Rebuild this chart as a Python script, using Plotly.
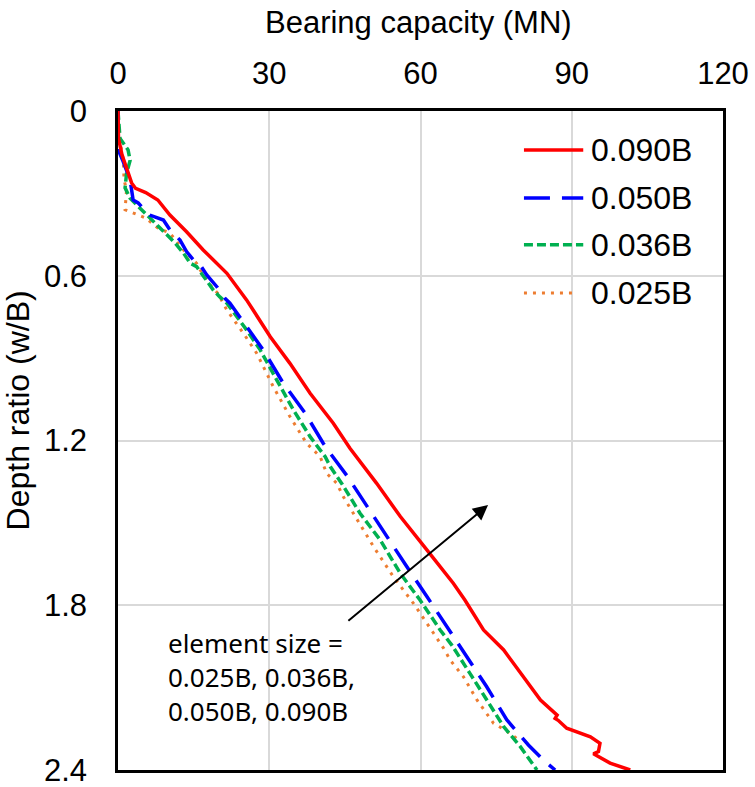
import plotly.graph_objects as go

# Bearing capacity (MN) versus depth ratio (w/B) for four mesh element sizes
cap_090 = [0, 0.1, 0.8, 1.7, 2.7, 3.5, 5.5, 7.9, 10.3, 13.6, 16.9, 21.6, 22.6, 25.5, 26.8, 30.2, 34.1,
           38.1, 42.7, 46.0, 51.3, 56.0, 61.3, 66.5, 68.8, 72.5, 76.5, 80.4, 83.8, 87.1, 86.7, 87.3,
           89.0, 93.7, 95.6, 95.3, 94.3, 97.6, 101.6]
dep_090 = [0, 0.10, 0.16, 0.21, 0.262, 0.282, 0.297, 0.324, 0.379, 0.44, 0.506, 0.591, 0.615, 0.688,
           0.725, 0.822, 0.919, 1.028, 1.137, 1.228, 1.356, 1.477, 1.599, 1.72, 1.781, 1.89, 1.963,
           2.06, 2.145, 2.20, 2.212, 2.219, 2.248, 2.279, 2.303, 2.333, 2.341, 2.375, 2.40]

cap_050 = [0, 0.06, 1.05, 2.4, 3.0, 4.0, 6.3, 9.0, 10.3, 12.3, 13.6, 15.0, 16.3, 17.6, 19.6, 21.2,
           22.2, 25.5, 28.8, 32.8, 37.1, 40.7, 42.1, 45.4, 49.4, 53.3, 57.3, 61.3, 65.2, 67.2, 69.2,
           73.1, 77.1, 81.4, 84.4, 86.7]
dep_050 = [0, 0.142, 0.185, 0.251, 0.324, 0.335, 0.379, 0.397, 0.433, 0.47, 0.512, 0.543, 0.561,
           0.597, 0.64, 0.682, 0.70, 0.786, 0.87, 0.992, 1.10, 1.21, 1.247, 1.328, 1.441, 1.55, 1.66,
           1.769, 1.878, 1.93, 1.987, 2.096, 2.217, 2.309, 2.364, 2.40]

cap_036 = [0, 0.4, 2.0, 2.4, 1.7, 1.4, 2.4, 4.4, 7.9, 11.3, 13.0, 14.3, 15.6, 17.9, 18.9, 20.2, 21.6,
           25.5, 28.2, 31.5, 34.8, 38.1, 41.1, 42.1, 44.5, 48.0, 52.0, 56.0, 59.9, 63.9, 66.2, 69.8,
           73.1, 76.5, 79.8, 83.1]
dep_036 = [0, 0.10, 0.142, 0.18, 0.227, 0.28, 0.318, 0.354, 0.415, 0.48, 0.518, 0.554, 0.567, 0.623,
           0.652, 0.677, 0.70, 0.797, 0.87, 0.98, 1.089, 1.186, 1.259, 1.295, 1.36, 1.465, 1.562,
           1.684, 1.781, 1.89, 1.945, 2.048, 2.145, 2.242, 2.315, 2.40]

cap_025 = [0, 0.06, 1.05, 1.2, 1.7, 1.4, 3.5, 5.5, 7.9, 10.3, 13.0, 15.6, 16.3, 18.3, 19.8, 21.6,
           24.9, 27.5, 30.8, 34.1, 37.4, 40.1, 41.4, 43.4, 44.7, 46.7, 50.7, 54.6, 58.6, 62.6, 64.6,
           65.9, 68.5, 71.2, 74.5, 77.8, 79.4]
dep_025 = [0, 0.075, 0.178, 0.251, 0.288, 0.36, 0.375, 0.39, 0.426, 0.445, 0.506, 0.555, 0.579,
           0.634, 0.664, 0.725, 0.81, 0.882, 1.004, 1.113, 1.21, 1.259, 1.32, 1.356, 1.405, 1.465,
           1.587, 1.696, 1.793, 1.902, 1.957, 2.0, 2.06, 2.145, 2.23, 2.266, 2.29]

series_names = ["0.090B", "0.050B", "0.036B", "0.025B"]
series_caps = [cap_090, cap_050, cap_036, cap_025]
series_deps = [dep_090, dep_050, dep_036, dep_025]
series_colors = ["#FF0000", "#0000FF", "#00B050", "#ED7D31"]
series_dash = ["solid", "26px,12px", "9px,4px", "3px,6px"]
series_width = [3.5, 3.5, 3.5, 3]

x_ticks = [0, 30, 60, 90, 120]
y_ticks = [0, 0.6, 1.2, 1.8, 2.4]
y_ticktext = ["0", "0.6", "1.2", "1.8", "2.4"]

note_text = "element size =<br>0.025B, 0.036B,<br>0.050B, 0.090B"

fig = go.Figure()

# finest mesh drawn first so the coarse 0.090B curve sits on top
for i in reversed(range(4)):
    fig.add_trace(go.Scatter(
        x=series_caps[i], y=series_deps[i], mode="lines", name=series_names[i],
        line=dict(color=series_colors[i], width=series_width[i], dash=series_dash[i]),
        showlegend=False,
    ))

font_main = "Liberation Sans, Arial, sans-serif"

# legend drawn as line samples with labels in the upper right of the plot
legend_y = [0.941, 0.868, 0.797, 0.724]
shapes = []
annotations = []
for i in range(4):
    shapes.append(dict(
        type="line", xref="paper", yref="paper",
        x0=0.671, x1=0.769 if i < 3 else 0.760, y0=legend_y[i], y1=legend_y[i],
        line=dict(color=series_colors[i], width=series_width[i], dash=series_dash[i]),
    ))
    annotations.append(dict(
        xref="paper", yref="paper", x=0.778, y=legend_y[i], xanchor="left", yanchor="middle",
        text=series_names[i], showarrow=False, font=dict(family=font_main, size=32, color="black"),
    ))

# axis titles
annotations.append(dict(
    xref="paper", yref="paper", x=0.496, y=1.135, xanchor="center", yanchor="middle",
    text="Bearing capacity (MN)", showarrow=False, font=dict(family=font_main, size=31, color="black"),
))
annotations.append(dict(
    xref="paper", yref="paper", x=-0.166, y=0.545, xanchor="center", yanchor="middle",
    text="Depth ratio (w/B)", textangle=-90, showarrow=False,
    font=dict(family=font_main, size=32, color="black"),
))

# trend arrow and note on element size
annotations.append(dict(
    x=73.4, y=1.435, xref="x", yref="y", ax=45.4, ay=1.861, axref="x", ayref="y",
    text="", showarrow=True, arrowhead=2, arrowsize=1.5, arrowwidth=2, arrowcolor="black",
))
annotations.append(dict(
    xref="paper", yref="paper", x=0.079, y=0.141, xanchor="left", yanchor="middle", align="left",
    text=note_text, showarrow=False, font=dict(family="Noto Sans, Open Sans, sans-serif", size=26, color="black"),
))

# invisible outside ticks set the gap between axis line and tick labels
fig.update_layout(
    width=755, height=787,
    margin=dict(l=118, r=32, t=111, b=17, autoexpand=False),
    paper_bgcolor="white", plot_bgcolor="white",
    showlegend=False,
    shapes=shapes, annotations=annotations,
    xaxis=dict(
        side="top", range=[0, 120], tickvals=x_ticks, showgrid=True, gridcolor="#D9D9D9",
        gridwidth=1.5, zeroline=False, showline=True, linecolor="black", linewidth=2.5,
        mirror=True, ticks="outside", ticklen=12, tickcolor="rgba(0,0,0,0)",
        automargin=False, ticklabeloverflow="allow",
        tickfont=dict(family=font_main, size=31, color="black"),
    ),
    yaxis=dict(
        range=[2.4, 0], tickvals=y_ticks, ticktext=y_ticktext, showgrid=True, gridcolor="#D9D9D9",
        gridwidth=1.5, zeroline=False, showline=True, linecolor="black", linewidth=2.5,
        mirror=True, ticks="outside", ticklen=22, tickcolor="rgba(0,0,0,0)",
        automargin=False, ticklabeloverflow="allow",
        tickfont=dict(family=font_main, size=31, color="black"),
    ),
)

fig.write_html("out.html")
